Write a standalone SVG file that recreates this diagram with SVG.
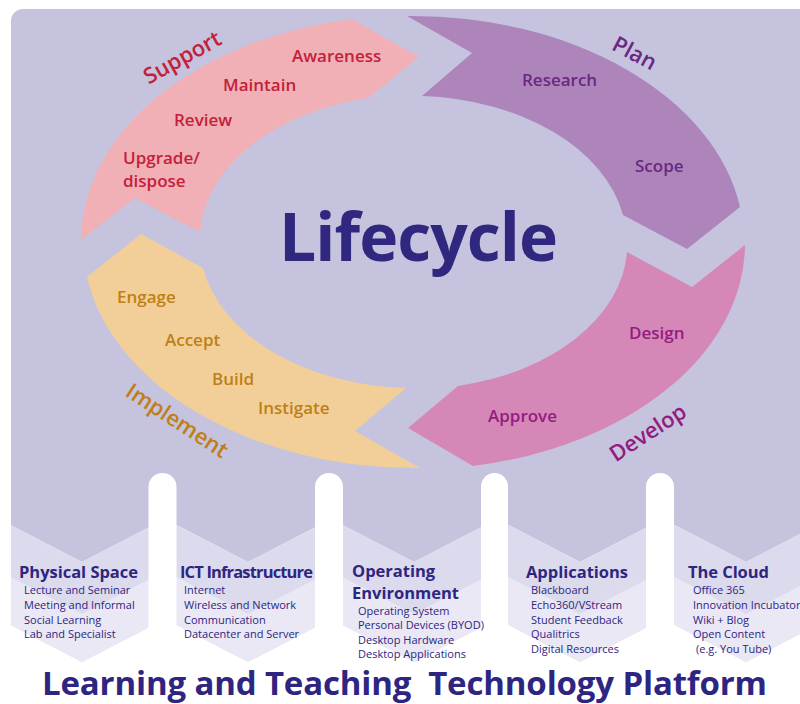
<svg xmlns="http://www.w3.org/2000/svg" width="800" height="704" viewBox="0 0 800 704">
<defs>
<style>
text{font-family:"Open Sans","Noto Sans","Liberation Sans",sans-serif}
.lbl{font-size:17px;font-weight:600}
.ph{font-size:22px;font-weight:600}
.hd{font-size:16.5px;font-weight:700;fill:#2e2581}
.it{font-size:11px;fill:#2e2581}
.sup{fill:#c4203a}.pln{fill:#6a2883}.dev{fill:#941b80}.imp{fill:#bf7f16}
</style>
</defs>
<rect x="0" y="0" width="800" height="704" fill="#ffffff"/>
<path id="background" d="M11,21 A12,12 0 0 1 23,9 H800 V534 L746,562 L663,519 L580,562 L497,519 L414,562 L331,519 L248,562 L165,519 L82,562 L11,525.2 Z" fill="#c5c3de"/>
<path d="M11,525.2 L82,562 L165,519 L248,562 L331,519 L414,562 L497,519 L580,562 L663,519 L746,562 L800,534 V634 L746,662 L663,619 L580,662 L497,619 L414,662 L331,619 L248,662 L165,619 L82,662 L11,625.2 Z" fill="#dcdaed"/>
<path d="M11,577.2 L82,614 L165,571 L248,614 L331,571 L414,614 L497,571 L580,614 L663,571 L746,614 L800,586 V634 L746,662 L663,619 L580,662 L497,619 L414,662 L331,619 L248,662 L165,619 L82,662 L11,625.2 Z" fill="#e9e8f4"/>
<g id="pillars" fill="#ffffff">
<rect x="148.5" y="473" width="28" height="240" rx="14"/>
<rect x="315" y="473" width="28" height="240" rx="14"/>
<rect x="481" y="473" width="27" height="240" rx="13.5"/>
<rect x="646" y="473" width="28" height="240" rx="14"/>
</g>
<g id="support">
<path d="M81,240 A332,226 0 0 1 352,19 L419,57 L368,98 A215,145 0 0 0 200,232 L135,198 Z" fill="#f0b0b6"/>
<text class="ph sup" transform="translate(186,64) rotate(-29)" text-anchor="middle">Support</text>
<text class="lbl sup" x="292" y="62">Awareness</text>
<text class="lbl sup" x="223" y="91">Maintain</text>
<text class="lbl sup" x="174" y="126">Review</text>
<text class="lbl sup" x="123" y="164">Upgrade/</text>
<text class="lbl sup" x="123" y="187">dispose</text>
</g>
<g id="plan">
<path d="M407,16 A332,226 0 0 1 740,207 L687,249 L623,215 A215,145 0 0 0 422,96 L472,53 Z" fill="#ae85bb"/>
<text class="ph pln" font-size="21" transform="translate(631,60) rotate(28)" text-anchor="middle">Plan</text>
<text class="lbl pln" x="522" y="86">Research</text>
<text class="lbl pln" x="635" y="172">Scope</text>
</g>
<g id="develop">
<path d="M745,245 A332,226 0 0 1 473,466 L408,428 L458,386 A215,145 0 0 0 627,252 L692,287 Z" fill="#d588b8"/>
<text class="ph dev" transform="translate(652,439) rotate(-33)" text-anchor="middle">Develop</text>
<text class="lbl dev" x="629" y="339">Design</text>
<text class="lbl dev" x="488" y="422">Approve</text>
</g>
<g id="implement">
<path d="M420,468 A332,226 0 0 1 87,277 L141,234 L203,268 A215,145 0 0 0 406,388 L355,431 Z" fill="#f2cf98"/>
<text class="ph imp" transform="translate(173,427) rotate(33)" text-anchor="middle">Implement</text>
<text class="lbl imp" x="117" y="303">Engage</text>
<text class="lbl imp" x="165" y="346">Accept</text>
<text class="lbl imp" x="212" y="385">Build</text>
<text class="lbl imp" x="258" y="414">Instigate</text>
</g>
<g id="lifecycle">
<text x="279" y="261" font-size="66" font-weight="700" fill="#30277f" textLength="279">Lifecycle</text>
</g>
<g id="physical-space">
<text class="hd" x="19" y="578" textLength="119">Physical Space</text>
<text class="it" x="24" y="594">Lecture and Seminar</text>
<text class="it" x="24" y="608.8">Meeting and Informal</text>
<text class="it" x="24" y="623.6">Social Learning</text>
<text class="it" x="24" y="638.4">Lab and Specialist</text>
</g>
<g id="ict-infrastructure">
<text class="hd" x="180" y="578" textLength="133">ICT Infrastructure</text>
<text class="it" x="184" y="594">Internet</text>
<text class="it" x="184" y="608.8">Wireless and Network</text>
<text class="it" x="184" y="623.6">Communication</text>
<text class="it" x="184" y="638.4">Datacenter and Server</text>
</g>
<g id="operating-environment">
<text class="hd" x="352" y="577">Operating</text>
<text class="hd" x="352" y="598.5">Environment</text>
<text class="it" x="358" y="614.5">Operating System</text>
<text class="it" x="358" y="629">Personal Devices (BYOD)</text>
<text class="it" x="358" y="643.5">Desktop Hardware</text>
<text class="it" x="358" y="658">Desktop Applications</text>
</g>
<g id="applications">
<text class="hd" x="526" y="578" textLength="102">Applications</text>
<text class="it" x="531" y="594">Blackboard</text>
<text class="it" x="531" y="608.8">Echo360/VStream</text>
<text class="it" x="531" y="623.6">Student Feedback</text>
<text class="it" x="531" y="638.4">Qualitrics</text>
<text class="it" x="531" y="653">Digital Resources</text>
</g>
<g id="the-cloud">
<text class="hd" x="688" y="578" textLength="81">The Cloud</text>
<text class="it" x="693" y="594">Office 365</text>
<text class="it" x="693" y="608.8">Innovation Incubator</text>
<text class="it" x="693" y="623.6">Wiki + Blog</text>
<text class="it" x="693" y="638.4">Open Content</text>
<text class="it" x="696" y="653">(e.g. You Tube)</text>
</g>
<g id="platform-title">
<text x="42" y="695" font-size="33" font-weight="700" fill="#2e2581" textLength="725" xml:space="preserve">Learning and Teaching  Technology Platform</text>
</g>
</svg>
